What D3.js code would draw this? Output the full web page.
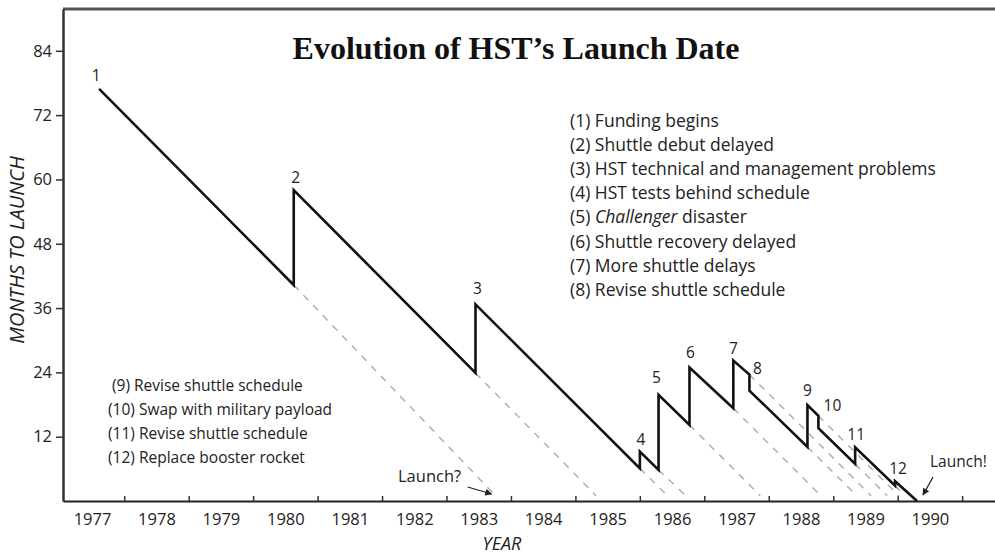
<!DOCTYPE html>
<html>
<head>
<meta charset="utf-8">
<script src="https://cdn.jsdelivr.net/npm/d3@7"></script>
<style>
  body { margin: 0; background: #fff; }
  svg { display: block; }
  text { font-family: "Open Sans", sans-serif; fill: #222; }
</style>
</head>
<body>
<div id="chart"></div>
<script>
// vertices of the schedule line (year, months to launch)
var years  = [1977.61, 1980.63, 1980.63, 1983.45, 1983.45, 1986.00, 1986.00, 1986.29, 1986.29,
              1986.77, 1986.77, 1987.45, 1987.45, 1987.70, 1987.70, 1988.60, 1988.60,
              1988.77, 1988.77, 1989.34, 1989.34, 1989.96, 1989.96, 1990.30];
var months = [76.9, 40.3, 58.0, 23.9, 36.7, 6.1, 9.2, 5.8, 19.8,
              14.2, 24.9, 17.3, 26.2, 23.6, 20.6, 10.1, 17.9,
              15.9, 13.6, 6.9, 10.0, 2.85, 3.7, 0];

// old schedules: dashed from a vertex down to the launch date that was planned then
var dashFrom      = [1, 3, 5, 7, 9, 11, 13, 15, 17, 19, 21];
var plannedLaunch = [1983.84, 1985.40, 1986.51, 1986.80, 1987.95, 1988.89, 1989.67, 1989.45, 1990.10, 1989.92, 1990.20];

// numbered events and the vertex each number sits on
var eventNames  = ["1", "2", "3", "4", "5", "6", "7", "8", "9", "10", "11", "12"];
var eventVertex = [0, 2, 4, 6, 8, 10, 12, 13, 16, 17, 20, 22];
var labelNudge  = [[-3,-14],[2,-13],[2,-16],[1,-13],[-2,-18],[1,-16],[0,-13],[8,-7],[0,-15],[14,-11],[1,-13],[3,-13]];

var notesTop = ["(1) Funding begins", "(2) Shuttle debut delayed", "(3) HST technical and management problems",
                "(4) HST tests behind schedule", "(5) Challenger disaster", "(6) Shuttle recovery delayed",
                "(7) More shuttle delays", "(8) Revise shuttle schedule"];
var notesBottom = [" (9) Revise shuttle schedule", "(10) Swap with military payload",
                   "(11) Revise shuttle schedule", "(12) Replace booster rocket"];

var yTicks = [12, 24, 36, 48, 60, 72, 84];
var yearLabels = d3.range(1977, 1991);

var width = 995, height = 555;
var svg = d3.select("#chart").append("svg")
    .attr("width", width)
    .attr("height", height);

var x = d3.scaleLinear().domain([1977.05, 1991.51]).range([63, 995]);
var y = d3.scaleLinear().domain([0, 91.8]).range([501, 9]);

svg.append("defs").append("marker")
    .attr("id", "head")
    .attr("viewBox", "0 0 10 10")
    .attr("refX", 9).attr("refY", 5)
    .attr("markerWidth", 9).attr("markerHeight", 7)
    .attr("markerUnits", "userSpaceOnUse")
    .attr("orient", "auto")
  .append("path")
    .attr("d", "M0,0L10,5L0,10z")
    .attr("fill", "#222");

// top frame line
svg.append("line")
    .attr("x1", 63).attr("x2", width)
    .attr("y1", y(91.8)).attr("y2", y(91.8))
    .attr("stroke", "#555").attr("stroke-width", 3);

// y axis
var yAxis = svg.append("g")
    .attr("transform", "translate(63,0)")
    .call(d3.axisLeft(y).tickValues(yTicks).tickSize(7).tickSizeOuter(0).tickPadding(4));
yAxis.select(".domain").attr("stroke", "#333").attr("stroke-width", 2.5);
yAxis.selectAll(".tick line").attr("stroke", "#333").attr("stroke-width", 1.5);
yAxis.selectAll("text").attr("font-size", 16.5).attr("fill", "#222");

// x axis ticks at year boundaries
var xAxis = svg.append("g")
    .attr("transform", "translate(0,501)")
    .call(d3.axisBottom(x).tickValues(d3.range(1978, 1992)).tickSize(-5).tickSizeOuter(0).tickFormat(""));
xAxis.select(".domain").attr("stroke", "#222").attr("stroke-width", 2);
xAxis.selectAll(".tick line").attr("stroke", "#333").attr("stroke-width", 1.5);

// year labels centred in each year
var xLab = svg.append("g")
    .attr("transform", "translate(0,501)")
    .call(d3.axisBottom(x).tickValues(yearLabels.map(function(d){ return d + 0.5; }))
        .tickSize(0).tickPadding(12).tickFormat(function(d){ return Math.floor(d); }));
xLab.select(".domain").remove();
xLab.selectAll("text").attr("font-size", 16.5).attr("fill", "#222");

// dashed old schedules
svg.append("g")
    .selectAll("line")
    .data(dashFrom)
    .join("line")
    .attr("x1", function(k){ return x(years[k]); })
    .attr("y1", function(k){ return y(months[k]); })
    .attr("x2", function(k, i){ var t = (months[k] - 1) / months[k]; return x(years[k] + t * (plannedLaunch[i] - years[k])); })
    .attr("y2", y(1))
    .attr("stroke", "#aaa")
    .attr("stroke-width", 1.4)
    .attr("stroke-dasharray", "7,7");

// schedule line
var line = d3.line()
    .x(function(d){ return x(d[0]); })
    .y(function(d){ return y(d[1]); });
svg.append("path")
    .datum(d3.zip(years, months))
    .attr("d", line)
    .attr("fill", "none")
    .attr("stroke", "#111")
    .attr("stroke-width", 2.6)
    .attr("stroke-linejoin", "miter");

// event numbers
svg.append("g")
    .selectAll("text")
    .data(eventNames)
    .join("text")
    .attr("x", function(d, i){ return x(years[eventVertex[i]]) + labelNudge[i][0]; })
    .attr("y", function(d, i){ return y(months[eventVertex[i]]) + labelNudge[i][1]; })
    .attr("text-anchor", "middle")
    .attr("dominant-baseline", "central")
    .attr("font-size", 15.5)
    .text(function(d){ return d; });

// notes
var notesG = svg.append("g");
notesTop.forEach(function(s, i){
  var t = notesG.append("text").attr("x", 570).attr("y", 126.5 + i * 24.2).attr("font-size", 17.5);
  if (s.indexOf("Challenger") >= 0) {
    var parts = s.split("Challenger");
    t.append("tspan").text(parts[0]);
    t.append("tspan").style("font-style", "italic").text("Challenger");
    t.append("tspan").text(parts[1]);
  } else {
    t.text(s);
  }
});
svg.append("g")
    .selectAll("text")
    .data(notesBottom)
    .join("text")
    .attr("x", 108)
    .attr("y", function(d, i){ return 390.5 + i * 24.1; })
    .attr("font-size", 15.5)
    .style("white-space", "pre")
    .text(function(d){ return d; });

// launch annotations
var tip1 = [x(plannedLaunch[0]) - 9, y(0) - 7];
svg.append("line")
    .attr("x1", tip1[0] - 24).attr("y1", tip1[1] - 7)
    .attr("x2", tip1[0]).attr("y2", tip1[1])
    .attr("stroke", "#222").attr("stroke-width", 1.3)
    .attr("marker-end", "url(#head)");
svg.append("text").attr("x", 398).attr("y", 482).attr("font-size", 16.5).text("Launch?");

var tip2 = [x(years[years.length - 1]) + 6, y(0) - 6];
svg.append("line")
    .attr("x1", tip2[0] + 10).attr("y1", tip2[1] - 18)
    .attr("x2", tip2[0]).attr("y2", tip2[1])
    .attr("stroke", "#222").attr("stroke-width", 1.3)
    .attr("marker-end", "url(#head)");
svg.append("text").attr("x", 930).attr("y", 467).attr("font-size", 15.5).text("Launch!");

// titles
svg.append("text")
    .attr("x", 516).attr("y", 59)
    .attr("text-anchor", "middle")
    .style("font-family", "'Liberation Serif', 'Times New Roman', serif")
    .style("font-weight", "bold")
    .attr("font-size", 32)
    .style("fill", "#111")
    .text("Evolution of HST\u2019s Launch Date");

svg.append("text")
    .attr("transform", "translate(24,250) rotate(-90)")
    .attr("text-anchor", "middle")
    .style("font-style", "italic")
    .attr("font-size", 20)
    .text("MONTHS TO LAUNCH");

svg.append("text")
    .attr("x", 502).attr("y", 550)
    .attr("text-anchor", "middle")
    .style("font-style", "italic")
    .attr("font-size", 18)
    .text("YEAR");
</script>
</body>
</html>
